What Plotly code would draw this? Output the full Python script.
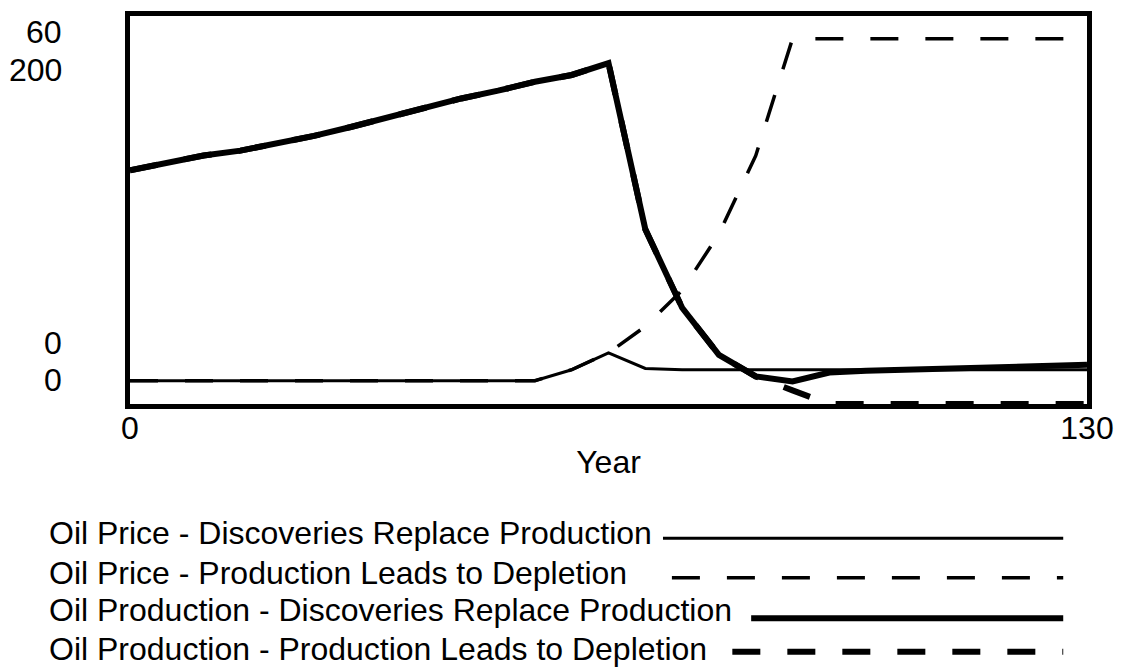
import plotly.graph_objects as go

# ---- data ----
years = [0, 5, 10, 15, 20, 25, 30, 35, 40, 45, 50, 55, 60, 65,
         70, 75, 80, 85, 90, 95, 100, 105, 110, 115, 120, 125, 130]

price_discoveries = [3.6, 3.6, 3.6, 3.6, 3.6, 3.6, 3.6, 3.6, 3.6, 3.6, 3.6, 3.6, 5.3, 7.9,
                     5.5, 5.3, 5.3, 5.3, 5.3, 5.3, 5.3, 5.3, 5.3, 5.3, 5.3, 5.3, 5.3]
price_depletion = [3.6, 3.6, 3.6, 3.6, 3.6, 3.6, 3.6, 3.6, 3.6, 3.6, 3.6, 3.6, 5.3, 7.9,
                   12.0, 17.6, 26.3, 38.4, 56.5, 56.5, 56.5, 56.5, 56.5, 56.5, 56.5, 56.5, 56.5]
production_discoveries = [120.5, 124.0, 128.1, 130.6, 134.2, 138.2, 142.8, 147.8, 152.4, 157.5,
                          161.5, 166.1, 169.6, 175.7, 90.1, 49.6, 25.3, 14.2, 11.6, 16.2,
                          17.2, 17.7, 18.7, 19.2, 19.2, 19.7, 20.2]
production_depletion = [120.5, 124.0, 128.1, 130.6, 134.2, 138.2, 142.8, 147.8, 152.4, 157.5,
                        161.5, 166.1, 169.6, 175.7, 90.1, 49.6, 25.3, 14.2, 7.0, 0.0,
                        0.0, 0.0, 0.0, 0.0, 0.0, 0.0, 0.0]

series_names = [
    "Oil Price - Discoveries Replace Production",
    "Oil Price - Production Leads to Depletion",
    "Oil Production - Discoveries Replace Production",
    "Oil Production - Production Leads to Depletion",
]
x_tick_values = [0, 130]
x_tick_labels = ["0", "130"]
price_axis_labels = ["60", "0"]        # max, min of price scale
production_axis_labels = ["200", "0"]  # max, min of production scale
price_range = [0, 60]
production_range = [0, 200]
x_title = "Year"

# ---- layout geometry ----
W, H = 1125, 668
L, R, T, B = 130, 29, 11, 264
PW, PH = W - L - R, H - T - B
FONT = "Liberation Sans, Arial, Helvetica, sans-serif"


def px_x(px):
    return (px - L) / PW


def px_y(py):
    return (H - B - py) / PH


DASH = "28px,27px"
styles = [
    dict(width=3, dash="solid", yaxis="y2"),
    dict(width=3.5, dash=DASH, yaxis="y2"),
    dict(width=6, dash="solid", yaxis="y"),
    dict(width=6, dash=DASH, yaxis="y"),
]
data_sets = [price_discoveries, price_depletion, production_discoveries, production_depletion]

fig = go.Figure()
draw_order = [2, 0, 1, 3]
for i in draw_order:
    st = styles[i]
    fig.add_trace(go.Scatter(
        x=years, y=data_sets[i], mode="lines", name=series_names[i],
        yaxis=st["yaxis"],
        line=dict(color="#000000", width=st["width"], dash=st["dash"]),
        showlegend=False,
    ))

annotations = []
# stacked y-axis labels (Vensim style)
label_rows = [
    (price_axis_labels[0], 27),
    (production_axis_labels[0], 66),
    (price_axis_labels[1], 342),
    (production_axis_labels[1], 380),
]
for txt, py in label_rows:
    annotations.append(dict(
        text=txt, xref="paper", yref="paper", x=px_x(63), y=px_y(py),
        xanchor="right", yanchor="middle", showarrow=False,
        font=dict(family=FONT, size=32, color="black")))

# legend below
legend_rows = [535, 575, 613, 652]
sample_rows = [540, 580, 621, 655]
sample_start = [668, 677, 757, 738]
sample_end = 1072
shapes = []
for i, name in enumerate(series_names):
    annotations.append(dict(
        text=name, xref="paper", yref="paper", x=px_x(46), y=px_y(legend_rows[i]),
        xanchor="left", yanchor="middle", showarrow=False,
        font=dict(family=FONT, size=32, color="black")))
    st = styles[i]
    shapes.append(dict(
        type="line", xref="paper", yref="paper",
        x0=px_x(sample_start[i]), x1=px_x(sample_end),
        y0=px_y(sample_rows[i]), y1=px_y(sample_rows[i]),
        line=dict(color="black", width=st["width"], dash=st["dash"])))

fig.update_layout(
    width=W, height=H,
    margin=dict(l=L, r=R, t=T, b=B, pad=0),
    paper_bgcolor="white", plot_bgcolor="white",
    font=dict(family=FONT, size=32, color="black"),
    xaxis=dict(
        range=[0, 130], tickvals=x_tick_values, ticktext=x_tick_labels,
        showgrid=False, zeroline=False, ticks="",
        showline=True, mirror=True, linewidth=5, linecolor="black",
        tickfont=dict(family=FONT, size=32),
        ticklabelstandoff=-8,
        title=dict(text=x_title, font=dict(family=FONT, size=32), standoff=7),
    ),
    yaxis=dict(
        range=production_range, showticklabels=False, showgrid=False, zeroline=False,
        ticks="", showline=True, mirror=True, linewidth=5, linecolor="black",
    ),
    yaxis2=dict(
        range=price_range, overlaying="y", visible=False,
    ),
    annotations=annotations,
    shapes=shapes,
)

fig.write_html(
    "out.html",
    config={"displayModeBar": False, "responsive": False},
    post_script=(
        "document.documentElement.style.margin='0';"
        "document.documentElement.style.padding='0';"
        "document.documentElement.style.overflow='hidden';"
        "document.body.style.margin='0';"
        "document.body.style.padding='0';"
        "document.body.style.overflow='hidden';"
    ),
)
